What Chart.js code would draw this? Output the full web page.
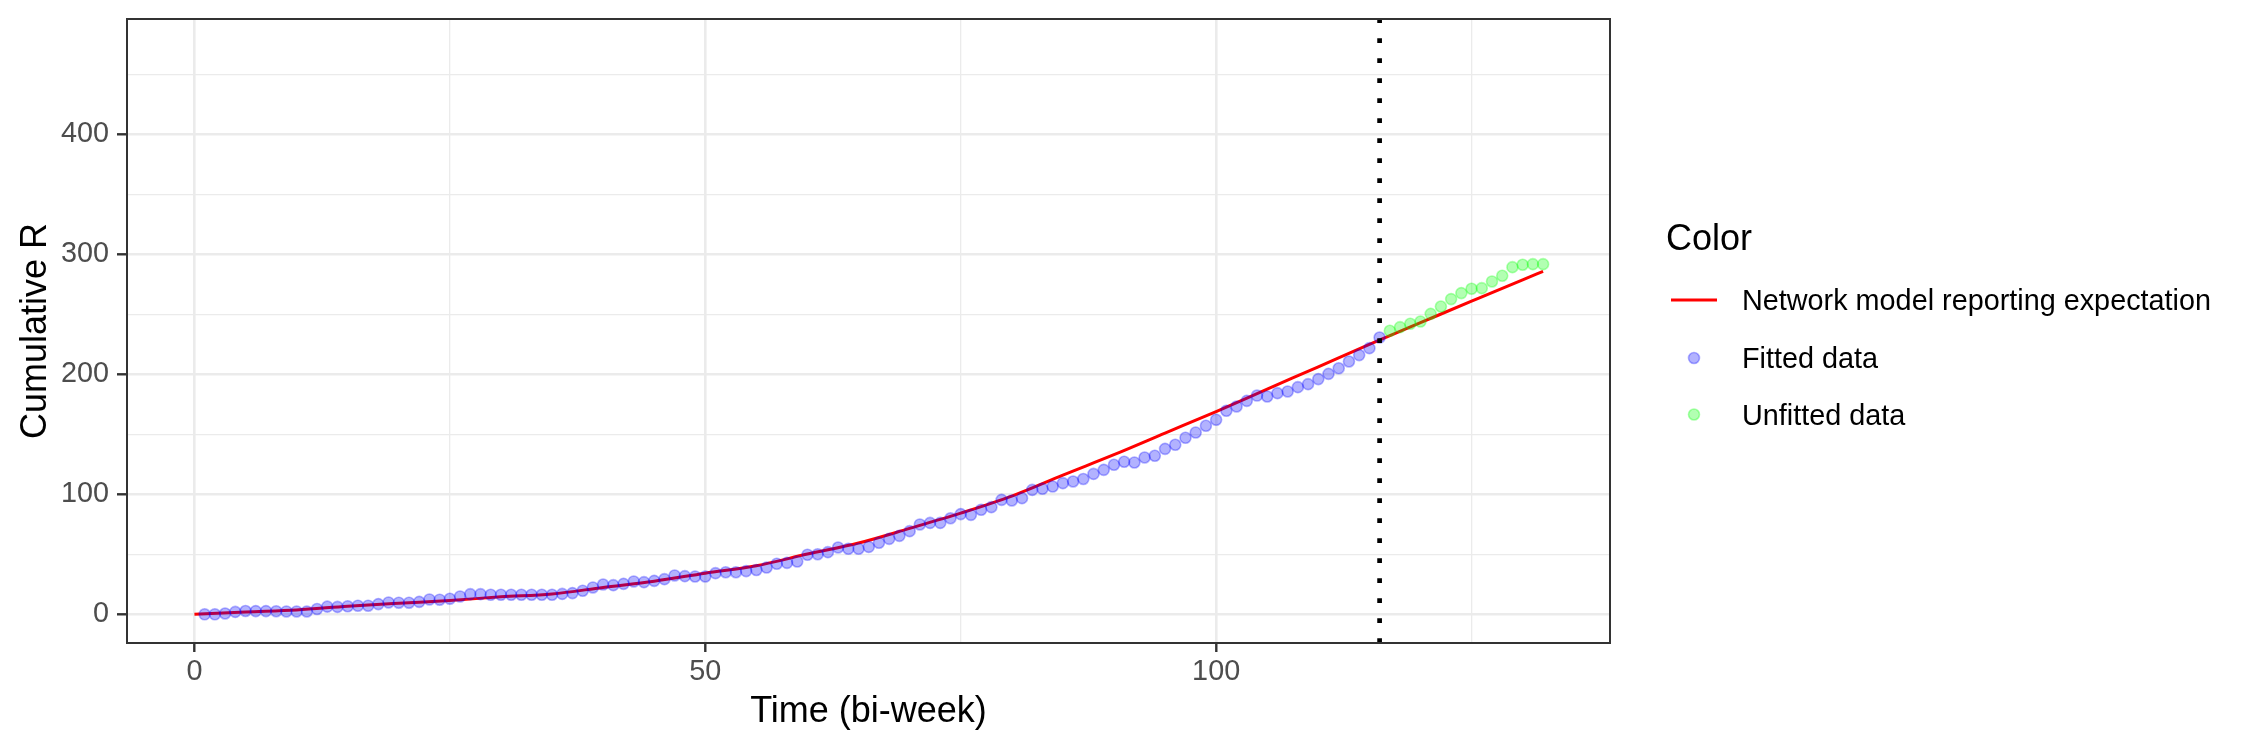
<!DOCTYPE html>
<html>
<head>
<meta charset="utf-8">
<script src="https://cdn.jsdelivr.net/npm/chart.js@4.4.1/dist/chart.umd.min.js"></script>
<style>
  html, body { margin: 0; padding: 0; background: #ffffff; }
  #wrap { width: 2250px; height: 750px; }
</style>
</head>
<body>
<div id="wrap"><canvas id="c" width="2250" height="750"></canvas></div>
<script>
// ---------------- data ----------------
const fittedStart = 1;
const fittedValues = [
  0, 0, 0.7, 2, 2.8, 2.7, 2.7, 2.6, 2.4, 2.4,
  2.4, 4.4, 6.4, 6.2, 6.7, 7.2, 7.2, 8.5, 9.9, 9.7,
  9.7, 10.4, 12.4, 12.2, 13, 14.9, 16.8, 16.8, 16.3, 16.3,
  16.3, 16.3, 16.3, 16.3, 16.3, 17, 17.7, 19.6, 22.4, 24.8,
  24.3, 25.4, 27.4, 26.8, 27.9, 29.3, 32.4, 31.8, 31.5, 31.5,
  34.3, 35.1, 35.1, 36, 36.9, 39, 42.1, 42.9, 44, 49.6,
  50.1, 51.8, 55.7, 54.6, 54.6, 56.2, 59.6, 62.9, 65.4, 69.3,
  74.9, 76.2, 76.2, 80.1, 83.5, 82.9, 87.1, 89.3, 95.4, 94.9,
  96.8, 103.7, 104.6, 106.5, 109.3, 110.7, 112.8, 117, 120.4, 124.6,
  127.1, 126.5, 130.7, 132.1, 137.9, 141.3, 147.1, 151.5, 157.1, 162.1,
  169.6, 173.2, 177.9, 182.3, 181.5, 184.3, 185.7, 189.3, 191.8, 196,
  200.4, 205.1, 210.7, 216, 221.8, 230.7
];
const unfittedStart = 117;
const unfittedValues = [
  236.3, 239.3, 242.1, 244, 250.4, 256.5, 262.7, 267.7,
  271.3, 271.8, 277.4, 282.1, 289.3, 291.3, 291.8, 291.8
];
const modelTimes  = [0, 5, 10, 15, 20, 25, 30, 35, 40, 45, 50, 55, 60, 65, 70, 75, 80, 85, 90, 95, 100, 105, 110, 115, 120, 125, 130, 132];
const modelValues = [0, 2, 3.7, 6.7, 9.2, 11.5, 14.6, 17, 22.4, 27.6, 34.3, 40.5, 50.2, 59.4, 71.6, 84.3, 98.5, 116, 133, 151, 169, 187.7, 206.3, 225, 243, 261, 278.8, 285.7];
const cutoffTime = 116;

const xTickValues = [0, 25, 50, 75, 100, 125];
const xMajorTicks = [0, 50, 100];
const yTickValues = [0, 50, 100, 150, 200, 250, 300, 350, 400, 450];
const yMajorTicks = [0, 100, 200, 300, 400];

const seriesLabels = ['Network model reporting expectation', 'Fitted data', 'Unfitted data'];
const legendTitle = 'Color';
const xTitle = 'Time (bi-week)';
const yTitle = 'Cumulative R';

// ---------------- build ----------------
const fittedPoints = fittedValues.map((v, i) => ({ x: fittedStart + i, y: v }));
const unfittedPoints = unfittedValues.map((v, i) => ({ x: unfittedStart + i, y: v }));
const modelPoints = modelValues.map((v, i) => ({ x: modelTimes[i], y: v }));

const FONT = '"Liberation Sans", Arial, sans-serif';
const BLUE = 'rgba(0,0,255,0.3)';
const GREEN = 'rgba(0,255,0,0.3)';
const RED = '#ff0000';
const PT_R = 5.5;
const PT_W = 1.6;

const panelPlugin = {
  id: 'panelPlugin',
  afterDatasetsDraw(chart) {
    const { ctx, chartArea: a, scales: { x } } = chart;
    ctx.save();
    ctx.beginPath();
    ctx.rect(a.left, a.top, a.right - a.left, a.bottom - a.top);
    ctx.clip();
    const px = x.getPixelForValue(cutoffTime);
    ctx.strokeStyle = '#000000';
    ctx.lineWidth = 4.7;
    ctx.lineCap = 'butt';
    ctx.setLineDash([4.7, 15.3]);
    ctx.beginPath();
    ctx.moveTo(px, a.bottom);
    ctx.lineTo(px, a.top);
    ctx.stroke();
    ctx.restore();

    ctx.save();
    ctx.strokeStyle = '#333333';
    ctx.lineWidth = 2;
    ctx.strokeRect(a.left, a.top, a.right - a.left, a.bottom - a.top);
    ctx.restore();
  },
  afterDraw(chart) {
    const ctx = chart.ctx;
    ctx.save();
    ctx.fillStyle = '#000000';
    ctx.textBaseline = 'alphabetic';
    ctx.textAlign = 'left';
    ctx.font = '36px ' + FONT;
    ctx.fillText(legendTitle, 1666, 250);

    const rows = [300, 358, 414.5];
    const keyX = 1694;
    const textX = 1742;
    ctx.font = '28.8px ' + FONT;
    // line key
    ctx.strokeStyle = RED;
    ctx.lineWidth = 3;
    ctx.beginPath();
    ctx.moveTo(1671, rows[0]);
    ctx.lineTo(1717, rows[0]);
    ctx.stroke();
    // point keys
    [[BLUE, rows[1]], [GREEN, rows[2]]].forEach(([col, yy]) => {
      ctx.beginPath();
      ctx.arc(keyX, yy, PT_R, 0, Math.PI * 2);
      ctx.fillStyle = col;
      ctx.fill();
      ctx.lineWidth = PT_W;
      ctx.strokeStyle = col;
      ctx.stroke();
    });
    ctx.fillStyle = '#000000';
    seriesLabels.forEach((lab, i) => ctx.fillText(lab, textX, rows[i] + 10.4));
    ctx.restore();
  }
};

const gridColor = '#ebebeb';
const noPad = (s) => { s.paddingTop = 0; s.paddingBottom = 0; s.paddingLeft = 0; s.paddingRight = 0; };

new Chart(document.getElementById('c'), {
  type: 'scatter',
  data: {
    datasets: [
      {
        label: seriesLabels[1],
        data: fittedPoints,
        pointBackgroundColor: BLUE,
        pointBorderColor: BLUE,
        backgroundColor: BLUE,
        borderColor: BLUE,
        pointBorderWidth: PT_W,
        pointRadius: PT_R,
        pointHoverRadius: PT_R,
        order: 1
      },
      {
        label: seriesLabels[2],
        data: unfittedPoints,
        pointBackgroundColor: GREEN,
        pointBorderColor: GREEN,
        backgroundColor: GREEN,
        borderColor: GREEN,
        pointBorderWidth: PT_W,
        pointRadius: PT_R,
        pointHoverRadius: PT_R,
        order: 2
      },
      {
        label: seriesLabels[0],
        data: modelPoints,
        showLine: true,
        borderColor: RED,
        backgroundColor: RED,
        borderWidth: 3,
        pointRadius: 0,
        pointHoverRadius: 0,
        cubicInterpolationMode: 'monotone',
        order: 3
      }
    ]
  },
  options: {
    responsive: false,
    animation: false,
    devicePixelRatio: 1,
    events: [],
    layout: { padding: { top: 19, right: 640, bottom: 0, left: 0 } },
    plugins: {
      legend: { display: false },
      tooltip: { enabled: false }
    },
    scales: {
      x: {
        type: 'linear',
        min: -6.6,
        max: 138.55,
        afterBuildTicks: (s) => { s.ticks = xTickValues.map(v => ({ value: v })); },
        afterFit: (s) => { s.height = 107; noPad(s); },
        border: { display: false },
        grid: {
          color: gridColor,
          lineWidth: (c) => (xMajorTicks.includes(c.tick && c.tick.value) ? 2.6 : 1.3),
          tickLength: 9,
          tickWidth: 2.4,
          tickColor: (c) => (xMajorTicks.includes(c.tick && c.tick.value) ? '#333333' : 'rgba(0,0,0,0)')
        },
        ticks: {
          autoSkip: false,
          maxRotation: 0,
          padding: 2.7,
          color: '#4d4d4d',
          font: { family: FONT, size: 28.8 },
          callback: (v) => (xMajorTicks.includes(v) ? String(v) : '')
        },
        title: {
          display: true,
          text: xTitle,
          color: '#000000',
          font: { family: FONT, size: 36 },
          padding: { top: 0, bottom: 15.9 }
        }
      },
      y: {
        type: 'linear',
        min: -23.9,
        max: 496.1,
        afterBuildTicks: (s) => { s.ticks = yTickValues.map(v => ({ value: v })); },
        afterFit: (s) => { s.width = 127; noPad(s); },
        border: { display: false },
        grid: {
          color: gridColor,
          lineWidth: (c) => (yMajorTicks.includes(c.tick && c.tick.value) ? 2.6 : 1.3),
          tickLength: 10,
          tickWidth: 2.4,
          tickColor: (c) => (yMajorTicks.includes(c.tick && c.tick.value) ? '#333333' : 'rgba(0,0,0,0)')
        },
        ticks: {
          autoSkip: false,
          padding: 8,
          color: '#4d4d4d',
          font: { family: FONT, size: 28.8 },
          callback: (v) => (yMajorTicks.includes(v) ? String(v) : '')
        },
        title: {
          display: true,
          text: yTitle,
          color: '#000000',
          font: { family: FONT, size: 36 },
          padding: { top: 14, bottom: 0 }
        }
      }
    }
  },
  plugins: [panelPlugin]
});
</script>
</body>
</html>
